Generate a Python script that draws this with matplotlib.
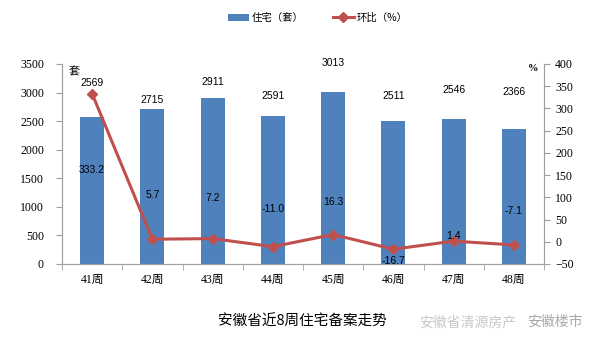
import numpy as np
import matplotlib.pyplot as plt
from matplotlib import font_manager

weeks = ['41周', '42周', '43周', '44周', '45周', '46周', '47周', '48周']
units = [2569, 2715, 2911, 2591, 3013, 2511, 2546, 2366]
mom = [333.2, 5.7, 7.2, -11.0, 16.3, -16.7, 1.4, -7.1]

# label offsets (points) as hand-placed in the source chart
unit_lbl_dy = [21, 2.5, 8, 11, 17.5, 14, 17, 23]
mom_lbl_dy = [-55, 32, 29, 27, 23.5, -8.4, 3.7, 24.5]

bar_color = '#4F81BD'
line_color = '#C0504D'
spine_color = '#A0A0A0'
cjk = ['Noto Sans CJK SC', 'DejaVu Sans']
sans = ['Liberation Sans', 'Noto Sans CJK SC']

# serif digits for the axes, falling back to DejaVu Serif
names = {f.name for f in font_manager.fontManager.ttflist}
serif_main = 'Liberation Serif' if 'Liberation Serif' in names else 'DejaVu Serif'
plt.rcParams['font.family'] = [serif_main, 'Noto Sans CJK SC']

fig = plt.figure(figsize=(5.92, 3.45), dpi=100)
ax = fig.add_axes([62 / 592, 1 - 264 / 345, (544 - 62) / 592, 200 / 345])
x = np.arange(len(weeks))

ax.bar(x, units, width=0.4, color=bar_color, zorder=2, label='住宅（套）')
ax.set_ylim(0, 3500)
ax.set_yticks(np.arange(0, 3501, 500))
ax.set_xlim(-0.5, len(weeks) - 0.5)
ax.set_xticks(x)
ax.set_xticklabels(weeks)
ax.set_xticks(np.arange(-0.5, len(weeks)), minor=True)
ax.tick_params(axis='x', which='major', length=0, pad=7, labelsize=8.5)
ax.tick_params(axis='x', which='minor', length=4, color=spine_color)
ax.tick_params(axis='y', length=4, color=spine_color, labelsize=8.5, pad=9)

for xi, v, dy in zip(x, units, unit_lbl_dy):
    ax.annotate(str(v), (xi, v), xytext=(0, dy), textcoords='offset points',
                ha='center', va='bottom', fontsize=7.5, family=sans)

ax2 = ax.twinx()
ax2.plot(x, mom, color=line_color, lw=2.2, marker='D', markersize=5.5, zorder=3,
         label='环比（%）')
ax2.set_ylim(-50, 400)
ax2.set_yticks(np.arange(-50, 401, 50))
ax2.tick_params(axis='y', length=4, color=spine_color, labelsize=8.5, pad=4)

for xi, v, dy in zip(x, mom, mom_lbl_dy):
    ax2.annotate(f'{v:.1f}', (xi, v), xytext=(0, dy), textcoords='offset points',
                 ha='center', va='center', fontsize=7.5, family=sans)

for a in (ax, ax2):
    a.spines['top'].set_visible(False)
    for s in ('left', 'right', 'bottom'):
        a.spines[s].set_color(spine_color)

ax.text(0.014, 0.985, '套', transform=ax.transAxes, fontsize=8, ha='left', va='top',
        family=cjk)
ax2.text(0.988, 1.0, '%', transform=ax2.transAxes, fontsize=7.5, ha='right', va='top',
         fontweight='bold')

h1, l1 = ax.get_legend_handles_labels()
h2, l2 = ax2.get_legend_handles_labels()
fig.legend(h1 + h2, l1 + l2, loc='center', bbox_to_anchor=(318 / 592, 1 - 18 / 345),
           ncol=2, frameon=False, prop={'family': cjk, 'size': 7.5},
           handlelength=2.0, columnspacing=2.8, handletextpad=0.3)

fig.text(302 / 592, 1 - 322 / 345, '安徽省近8周住宅备案走势', ha='center', va='center',
         fontsize=10.5, family=cjk)
fig.text(468 / 592, 1 - 322 / 345, '安徽省清源房产', ha='center', va='center',
         fontsize=10, color='#c8c8c8', family=cjk)
fig.text(555 / 592, 1 - 322 / 345, '安徽楼市', ha='center', va='center',
         fontsize=10, color='#a8a8a8', family=cjk)

fig.savefig('out.png', dpi=100)
